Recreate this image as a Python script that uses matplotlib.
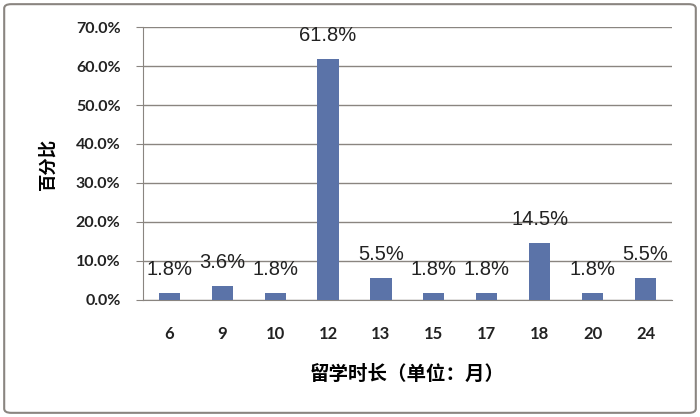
import matplotlib.pyplot as plt
from matplotlib.patches import FancyBboxPatch

plt.rcParams['font.family'] = ['Noto Sans CJK SC', 'DejaVu Sans']

months = ['6', '9', '10', '12', '13', '15', '17', '18', '20', '24']
percent = [1.8, 3.6, 1.8, 61.8, 5.5, 1.8, 1.8, 14.5, 1.8, 5.5]
yticks = [0, 10, 20, 30, 40, 50, 60, 70]

fig = plt.figure(figsize=(7, 4.17), dpi=100)
ax = fig.add_axes([0.204, 0.281, 0.756, 0.654])

x = range(len(months))
ax.bar(x, percent, width=0.4, color='#5B73A8', zorder=3)

for xi, v in zip(x, percent):
    ax.annotate(f'{v:.1f}%', (xi, v), xytext=(0, 17), textcoords='offset points',
                ha='center', va='center', fontsize=14.5, color='#222222',
                family=['Liberation Sans', 'DejaVu Sans'], zorder=4)

ax.set_xlim(-0.5, len(months) - 0.5)
ax.set_ylim(0, 70)
ax.set_yticks(yticks)
ax.set_yticklabels([f'{t:.1f}%' for t in yticks], fontweight='bold', fontsize=11.5,
                   family=['Lato', 'DejaVu Sans'], color='#222222')
ax.set_xticks(list(x))
ax.set_xticklabels(months, fontweight='bold', fontsize=12,
                   family=['Lato', 'DejaVu Sans'], color='#222222')
ax.tick_params(axis='x', length=0, pad=19)
ax.tick_params(axis='y', length=5, color='#8a8580', pad=11)

ax.grid(axis='y', color='#8a8580', linewidth=1, zorder=0)
for s in ['top', 'right']:
    ax.spines[s].set_visible(False)
ax.spines['left'].set_color('#8a8580')
ax.spines['bottom'].set_color('#8a8580')

ax.set_ylabel('百分比', fontweight='bold', fontsize=12.5, labelpad=14)
ax.set_xlabel('留学时长（单位：月）', fontweight='bold', fontsize=14, labelpad=16)

border = FancyBboxPatch((0.006, 0.01), 0.988, 0.98, boxstyle='round,pad=0,rounding_size=0.01',
                        transform=fig.transFigure, fill=False, edgecolor='#8a8580', linewidth=1.5)
fig.patches.append(border)

fig.savefig('out.png', dpi=100)
